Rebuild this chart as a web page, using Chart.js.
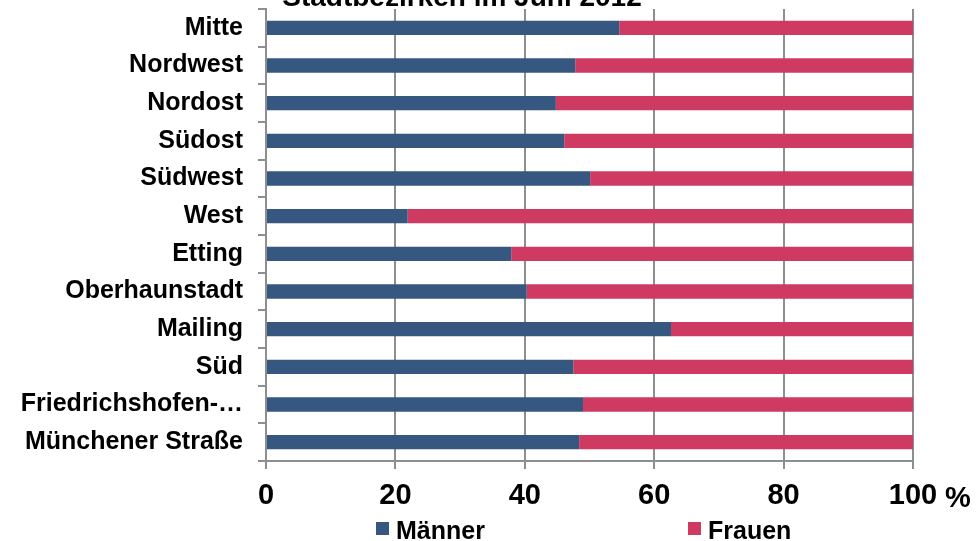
<!DOCTYPE html>
<html lang="de">
<head>
  <meta charset="UTF-8">
  <title>Stadtbezirken im Juni 2012</title>
  <script src="https://cdn.jsdelivr.net/npm/chart.js"></script>
  <style>
    html, body { margin: 0; padding: 0; background: #fff; }
    #wrap { width: 978px; height: 541px; position: relative; }
  </style>
</head>
<body>
  <div id="wrap"><canvas id="chartCanvas"></canvas></div>

  <script>
    const bezirke = ["Mitte", "Nordwest", "Nordost", "Südost", "Südwest", "West", "Etting",
      "Oberhaunstadt", "Mailing", "Süd", "Friedrichshofen-…", "Münchener Straße"];
    const maenner = [54.6, 47.8, 44.8, 46.1, 50.1, 21.9, 37.9, 40.3, 62.6, 47.5, 49.0, 48.4];
    const frauen = [45.4, 52.2, 55.2, 53.9, 49.9, 78.1, 62.1, 59.7, 37.4, 52.5, 51.0, 51.6];
    const xTicks = [0, 20, 40, 60, 80, 100];
    const titel = "Stadtbezirken im Juni 2012";

    const FONT = "'Liberation Sans', Arial, sans-serif";
    const GRID = "#8e8e8e";

    // title line (cut at the top), "%" after the last tick, and the legend
    const extras = {
      id: "extras",
      afterDraw(chart) {
        const ctx = chart.ctx;
        const xs = chart.scales.x;
        ctx.save();
        ctx.fillStyle = "#000";
        ctx.font = "bold 28px " + FONT;
        ctx.textAlign = "center";
        ctx.textBaseline = "alphabetic";
        ctx.fillText(titel, 462, 6);

        ctx.font = "bold 29px " + FONT;
        ctx.textAlign = "left";
        ctx.fillText("%", xs.getPixelForValue(100) + 32, 507);

        ctx.font = "bold 25px " + FONT;
        const pos = [376, 688];
        chart.data.datasets.forEach((ds, i) => {
          ctx.fillStyle = ds.backgroundColor;
          ctx.fillRect(pos[i], 522, 13, 13);
          ctx.fillStyle = "#000";
          ctx.fillText(ds.label, pos[i] + 20, 539);
        });
        ctx.restore();
      }
    };

    new Chart(document.getElementById("chartCanvas"), {
      type: "bar",
      data: {
        labels: bezirke,
        datasets: [
          { label: "Männer", data: maenner, backgroundColor: "#36577f",
            barPercentage: 0.38, categoryPercentage: 1 },
          { label: "Frauen", data: frauen, backgroundColor: "#cf3a63",
            barPercentage: 0.38, categoryPercentage: 1 }
        ]
      },
      options: {
        indexAxis: "y",
        responsive: true,
        maintainAspectRatio: false,
        animation: false,
        layout: { padding: { top: 9, right: 65, bottom: 30, left: 0 } },
        plugins: {
          legend: { display: false },
          title: { display: false },
          tooltip: { enabled: false }
        },
        scales: {
          x: {
            stacked: true,
            min: 0,
            max: 100,
            afterBuildTicks(scale) {
              scale.ticks = xTicks.map(v => ({ value: v }));
            },
            afterFit(scale) { scale.height = 50; },
            grid: { color: GRID, lineWidth: 2, tickLength: 8, drawTicks: true },
            border: { display: true, color: GRID, width: 2 },
            ticks: {
              color: "#000",
              padding: 10,
              maxRotation: 0,
              font: { family: FONT, size: 29, weight: "bold" }
            }
          },
          y: {
            stacked: true,
            afterFit(scale) {
              scale.width = 266;
              scale.paddingTop = 0;
              scale.paddingBottom = 0;
            },
            grid: { display: true, drawOnChartArea: false, offset: true, color: GRID, lineWidth: 2, tickLength: 8 },
            border: { display: true, color: GRID, width: 2 },
            ticks: {
              color: "#000",
              padding: 15,
              autoSkip: false,
              font: { family: FONT, size: 25, weight: "bold" }
            }
          }
        }
      },
      plugins: [extras]
    });
  </script>
</body>
</html>
